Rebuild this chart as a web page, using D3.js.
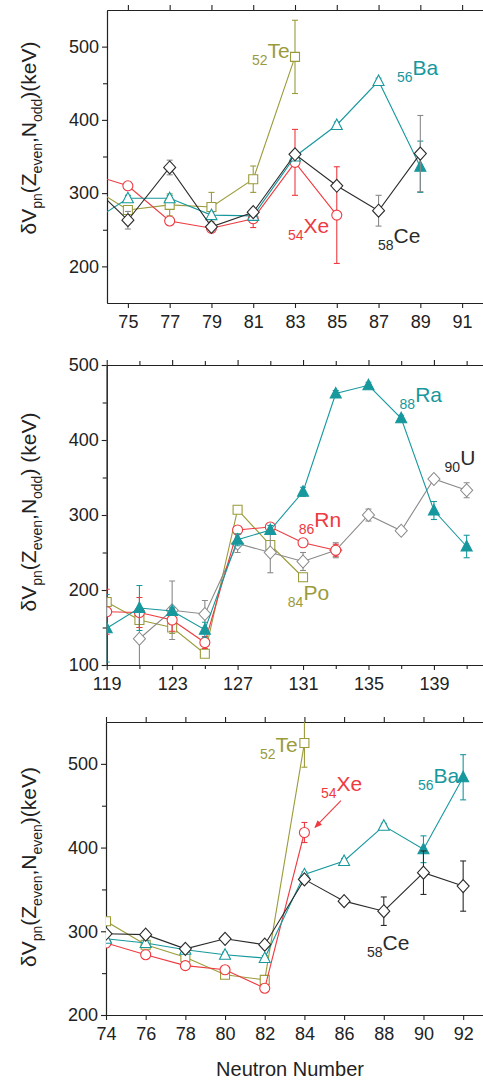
<!DOCTYPE html>
<html>
<head>
<meta charset="utf-8">
<script src="https://cdn.jsdelivr.net/npm/d3@7"></script>
<style>
  body { margin: 0; background: #fff; }
  text { font-family: "Liberation Sans", Arial, sans-serif; }
</style>
</head>
<body>
<svg id="chart" width="483" height="1083"></svg>
<script>
// ---- panel 1 : Z even, N odd (light nuclei) ----
const p1Ticks = [75, 77, 79, 81, 83, 85, 87, 89, 91];
const p1YMajor = [200, 300, 400, 500];
const p1YMinor = [250, 350, 450];

const te1N = [73, 75, 77, 79, 81, 83];
const te1V = [313, 277, 284, 281, 319, 486];
const te1E = [0, 6, 15, 20, 18, 50];

const xe1N = [73, 75, 77, 79, 81, 83, 85];
const xe1V = [328, 310, 262, 252, 265, 342, 270];
const xe1E = [0, 5, 4, 4, 12, 45, 66];

const ba1N = [73, 75, 77, 79, 81, 83, 85, 87];
const ba1V = [256, 293, 293, 270, 269, 350, 393, 453];
const ba1E = [0, 4, 4, 4, 4, 4, 4, 4];
const ba1SolidN = [89];
const ba1SolidV = [336];
const ba1SolidE = [35];

const ce1N = [73, 75, 77, 79, 81, 83, 85, 87, 89];
const ce1V = [318, 263, 335, 254, 274, 353, 310, 276, 354];
const ce1E = [0, 12, 10, 5, 5, 5, 5, 21, 52];

// ---- panel 2 : Z even, N odd (heavy nuclei) ----
const p2Major = [119, 123, 127, 131, 135, 139];
const p2Minor = [121, 125, 129, 133, 137, 141];
const p2YMajor = [100, 200, 300, 400, 500];
const p2YMinor = [150, 250, 350, 450];

const raN = [119, 121, 123, 125, 127, 129, 131, 133, 135, 137, 139, 141];
const raV = [149, 176, 172, 147, 267, 280, 331, 462, 473, 429, 306, 258];
const raE = [45, 30, 5, 10, 8, 6, 6, 4, 4, 4, 12, 15];

const rnN = [119, 121, 123, 125, 127, 129, 131, 133];
const rnV = [171, 170, 160, 130, 280, 284, 263, 253];
const rnE = [30, 20, 15, 8, 5, 5, 4, 8];

const poN = [119, 121, 123, 125, 127, 129, 131];
const poV = [184, 160, 150, 115, 307, 260, 217];
const poE = [5, 10, 8, 5, 5, 5, 5];

const uN = [121, 123, 125, 127, 129, 131, 133, 135, 137, 139, 141];
const uV = [135, 173, 168, 262, 250, 238, 253, 300, 279, 348, 333];
const uE = [40, 39, 18, 12, 27, 12, 10, 8, 5, 5, 10];

// ---- panel 3 : Z even, N even ----
const p3Ticks = [74, 76, 78, 80, 82, 84, 86, 88, 90, 92];
const p3YMajor = [200, 300, 400, 500];
const p3YMinor = [250, 350, 450];

const te3N = [74, 76, 78, 80, 82, 84];
const te3V = [312, 284, 269, 248, 242, 525];
const te3E = [4, 4, 4, 4, 4, 29];

const xe3N = [74, 76, 78, 80, 82, 84];
const xe3V = [286, 272, 259, 254, 232, 418];
const xe3E = [4, 4, 4, 4, 3, 12];

const ba3N = [74, 76, 78, 80, 82, 84, 86, 88];
const ba3V = [291, 286, 278, 272, 268, 368, 384, 426];
const ba3E = [3, 3, 3, 3, 3, 3, 3, 3];
const ba3SolidN = [90, 92];
const ba3SolidV = [398, 484];
const ba3SolidE = [16, 27];

const ce3N = [74, 76, 78, 80, 82, 84, 86, 88, 90, 92];
const ce3V = [297, 296, 279, 291, 284, 362, 336, 324, 370, 354];
const ce3E = [3, 4, 4, 3, 3, 4, 4, 17, 26, 30];

const olive = "#9b9b3b", red = "#ee3a40", teal = "#17989d", dark = "#2b2b2b", grey = "#8a8a8a";

const svg = d3.select("#chart");

function rows(N, V, E, solid) {
    return N.map((n, i) => ({n: n, v: V[i], e: E[i], solid: solid}));
}

function markerPath(shape) {
    if (shape == "circle") return "M5,0A5,5 0 1,1 -5,0A5,5 0 1,1 5,0Z";
    if (shape == "square") return "M-4.5,-4.5H4.5V4.5H-4.5Z";
    if (shape == "diamond") return "M0,-6.5L6,0L0,6.5L-6,0Z";
    return "M0,-6L5.5,4.5H-5.5Z";
}

function yTitle(cy, parts) {
    let t = svg.append("text")
        .attr("transform", "translate(36," + cy + ") rotate(-90)")
        .attr("text-anchor", "middle")
        .attr("font-size", 21)
        .attr("fill", "#222");
    parts.forEach(p => {
        if (p[1]) {
            t.append("tspan").attr("font-size", 14).attr("dy", 6).text(p[0]);
        } else {
            t.append("tspan").attr("font-size", 21).attr("dy", p[2] ? -6 : 0).text(p[0]);
        }
    });
}

function drawPanel(cfg) {
    const x = d3.scaleLinear().domain(cfg.xDomain).range(cfg.xRange);
    const y = d3.scaleLinear().domain(cfg.yDomain).range(cfg.yRange);
    const g = svg.append("g");

    const clipId = "clip" + cfg.id;
    g.append("clipPath").attr("id", clipId)
        .append("rect")
        .attr("x", cfg.xRange[0]).attr("y", cfg.yRange[1])
        .attr("width", cfg.xRange[1] - cfg.xRange[0])
        .attr("height", cfg.yRange[0] - cfg.yRange[1]);

    // axes
    const axes = g.append("g");
    axes.append("g").attr("transform", "translate(0," + cfg.yRange[0] + ")")
        .call(d3.axisBottom(x).tickValues(cfg.xMajor).tickFormat(d3.format("d"))
            .tickSize(5).tickSizeOuter(0).tickPadding(7));
    axes.append("g").attr("transform", "translate(0," + cfg.yRange[1] + ")")
        .call(d3.axisTop(x).tickValues(cfg.xMajor).tickFormat("").tickSize(5).tickSizeOuter(0));
    if (cfg.xMinor) {
        axes.append("g").attr("transform", "translate(0," + cfg.yRange[0] + ")")
            .call(d3.axisBottom(x).tickValues(cfg.xMinor).tickFormat("").tickSize(4).tickSizeOuter(0));
        axes.append("g").attr("transform", "translate(0," + cfg.yRange[1] + ")")
            .call(d3.axisTop(x).tickValues(cfg.xMinor).tickFormat("").tickSize(4).tickSizeOuter(0));
    }
    axes.append("g").attr("transform", "translate(" + cfg.xRange[0] + ",0)")
        .call(d3.axisLeft(y).tickValues(cfg.yMajor).tickFormat(d3.format("d"))
            .tickSize(5).tickSizeOuter(0).tickPadding(3));
    axes.append("g").attr("transform", "translate(" + cfg.xRange[0] + ",0)")
        .call(d3.axisLeft(y).tickValues(cfg.yMinor).tickFormat("").tickSize(4).tickSizeOuter(0));
    axes.selectAll("g").attr("font-size", 18).attr("font-family", "Liberation Sans, Arial, sans-serif");
    axes.selectAll("text").attr("fill", "#222");
    axes.selectAll("path, line").attr("stroke", "#222").attr("stroke-width", 1.1);

    // data
    const plot = g.append("g").attr("clip-path", "url(#" + clipId + ")");
    const line = d3.line().x(d => x(d.n)).y(d => y(d.v));
    cfg.series.forEach(s => {
        const sg = plot.append("g");
        sg.append("path").datum(s.pts)
            .attr("d", line).attr("fill", "none")
            .attr("stroke", s.line).attr("stroke-width", 1.1);
        const eb = sg.selectAll(".eb").data(s.pts.filter(d => d.e > 0)).join("g")
            .attr("stroke", s.err).attr("stroke-width", 1.1);
        eb.append("line").attr("x1", d => x(d.n)).attr("x2", d => x(d.n))
            .attr("y1", d => y(d.v - d.e)).attr("y2", d => y(d.v + d.e));
        eb.append("line").attr("x1", d => x(d.n) - 3).attr("x2", d => x(d.n) + 3)
            .attr("y1", d => y(d.v - d.e)).attr("y2", d => y(d.v - d.e));
        eb.append("line").attr("x1", d => x(d.n) - 3).attr("x2", d => x(d.n) + 3)
            .attr("y1", d => y(d.v + d.e)).attr("y2", d => y(d.v + d.e));
        sg.selectAll(".mk").data(s.pts).join("path")
            .attr("transform", d => "translate(" + x(d.n) + "," + y(d.v) + ")")
            .attr("d", markerPath(s.shape))
            .attr("fill", d => d.solid ? s.marker : "#fff")
            .attr("stroke", s.marker).attr("stroke-width", 1.1);
    });

    // element labels
    cfg.labels.forEach(l => {
        const t = g.append("text").attr("x", x(l.n)).attr("y", y(l.v)).attr("fill", l.color);
        t.append("tspan").attr("font-size", 14).attr("dy", 7).text(l.z);
        t.append("tspan").attr("font-size", 21).attr("dy", -7).text(l.el);
    });
    if (cfg.arrow) {
        const a = cfg.arrow;
        g.append("line")
            .attr("x1", x(a.n1)).attr("y1", y(a.v1)).attr("x2", x(a.n2)).attr("y2", y(a.v2))
            .attr("stroke", a.color).attr("stroke-width", 1.1).attr("marker-end", "url(#arrowHead)");
    }

    yTitle(cfg.titleY, cfg.title);
}

svg.append("defs").append("marker").attr("id", "arrowHead")
    .attr("viewBox", "0 0 10 10").attr("refX", 9).attr("refY", 5)
    .attr("markerWidth", 7).attr("markerHeight", 7).attr("orient", "auto")
    .append("path").attr("d", "M0,1L10,5L0,9Z").attr("fill", red);

drawPanel({
    id: 1, xDomain: [74, 92], xRange: [107, 483], yDomain: [150, 550], yRange: [303, 10],
    xMajor: p1Ticks, yMajor: p1YMajor, yMinor: p1YMinor,
    series: [
        {pts: rows(te1N, te1V, te1E, false), shape: "square", line: olive, err: olive, marker: olive},
        {pts: rows(xe1N, xe1V, xe1E, false), shape: "circle", line: red, err: red, marker: red},
        {pts: rows(ba1N, ba1V, ba1E, false).concat(rows(ba1SolidN, ba1SolidV, ba1SolidE, true)),
            shape: "triangle", line: teal, err: teal, marker: teal},
        {pts: rows(ce1N, ce1V, ce1E, false), shape: "diamond", line: dark, err: grey, marker: dark}
    ],
    labels: [
        {n: 80.94, v: 484, z: "52", el: "Te", color: olive},
        {n: 87.88, v: 461, z: "56", el: "Ba", color: teal},
        {n: 82.66, v: 246, z: "54", el: "Xe", color: red},
        {n: 86.97, v: 232, z: "58", el: "Ce", color: dark}
    ],
    titleY: 138,
    title: [["δV"], ["pn", 1], ["(Z", 0, 1], ["even", 1], [",N", 0, 1], ["odd", 1], [")(keV)", 0, 1]]
});

drawPanel({
    id: 2, xDomain: [119, 142], xRange: [106.7, 483], yDomain: [100, 500], yRange: [665, 365],
    xMajor: p2Major, xMinor: p2Minor, yMajor: p2YMajor, yMinor: p2YMinor,
    series: [
        {pts: rows(poN, poV, poE, false), shape: "square", line: olive, err: olive, marker: olive},
        {pts: rows(uN, uV, uE, false), shape: "diamond", line: grey, err: grey, marker: grey},
        {pts: rows(rnN, rnV, rnE, false), shape: "circle", line: red, err: red, marker: red},
        {pts: rows(raN, raV, raE, true), shape: "triangle", line: teal, err: teal, marker: teal}
    ],
    labels: [
        {n: 136.9, v: 451, z: "88", el: "Ra", color: teal},
        {n: 139.65, v: 367, z: "90", el: "U", color: dark},
        {n: 130.74, v: 284, z: "86", el: "Rn", color: red},
        {n: 130.07, v: 187, z: "84", el: "Po", color: olive}
    ],
    titleY: 512,
    title: [["δV"], ["pn", 1], ["(Z", 0, 1], ["even", 1], [",N", 0, 1], ["odd", 1], [") (keV)", 0, 1]]
});

drawPanel({
    id: 3, xDomain: [74, 93], xRange: [106, 483], yDomain: [200, 550], yRange: [1015, 722],
    xMajor: p3Ticks, yMajor: p3YMajor, yMinor: p3YMinor,
    series: [
        {pts: rows(te3N, te3V, te3E, false), shape: "square", line: olive, err: olive, marker: olive},
        {pts: rows(xe3N, xe3V, xe3E, false), shape: "circle", line: red, err: red, marker: red},
        {pts: rows(ba3N, ba3V, ba3E, false).concat(rows(ba3SolidN, ba3SolidV, ba3SolidE, true)),
            shape: "triangle", line: teal, err: teal, marker: teal},
        {pts: rows(ce3N, ce3V, ce3E, false), shape: "diamond", line: dark, err: dark, marker: dark}
    ],
    labels: [
        {n: 81.76, v: 514, z: "52", el: "Te", color: olive},
        {n: 84.83, v: 467, z: "54", el: "Xe", color: red},
        {n: 89.72, v: 477, z: "56", el: "Ba", color: teal},
        {n: 87.15, v: 278, z: "58", el: "Ce", color: dark}
    ],
    arrow: {n1: 85.84, v1: 456, n2: 84.53, v2: 424, color: red},
    titleY: 867,
    title: [["δV"], ["pn", 1], ["(Z", 0, 1], ["even", 1], [",N", 0, 1], ["even", 1], [")(keV)", 0, 1]]
});

svg.append("text")
    .attr("x", 290).attr("y", 1076)
    .attr("text-anchor", "middle")
    .attr("font-size", 20)
    .attr("fill", "#222")
    .text("Neutron Number");
</script>
</body>
</html>
